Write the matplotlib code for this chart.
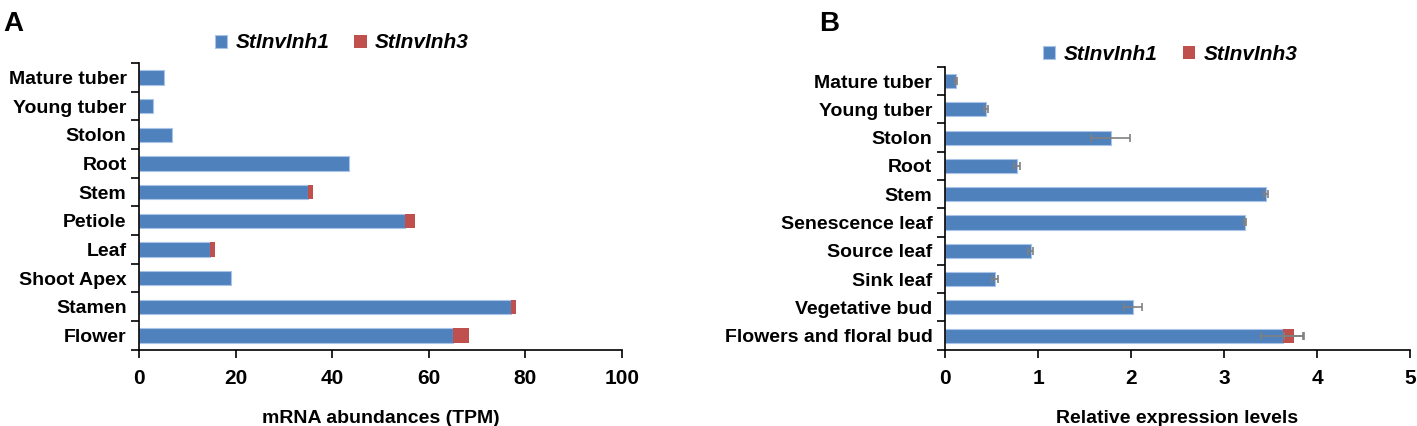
import matplotlib.pyplot as plt
import numpy as np

# panel A: RNA-seq abundances (TPM), listed bottom -> top
tissues_a = ["Flower", "Stamen", "Shoot Apex", "Leaf", "Petiole",
             "Stem", "Root", "Stolon", "Young tuber", "Mature tuber"]
inh1_a = [64.9, 77.0, 19.0, 14.6, 55.0, 34.9, 43.4, 6.8, 3.0, 5.2]
inh3_a = [3.5, 1.0, 0.0, 1.1, 2.1, 1.2, 0.0, 0.0, 0.0, 0.0]

# panel B: qRT-PCR relative expression, listed bottom -> top
tissues_b = ["Flowers and floral bud", "Vegetative bud", "Sink leaf", "Source leaf",
             "Senescence leaf", "Stem", "Root", "Stolon", "Young tuber", "Mature tuber"]
inh1_b = [3.63, 2.02, 0.54, 0.92, 3.23, 3.45, 0.775, 1.78, 0.44, 0.12]
inh1_b_err = [0.23, 0.10, 0.03, 0.025, 0.01, 0.02, 0.035, 0.21, 0.025, 0.01]
inh3_b = [0.12, 0.0, 0.0, 0.0, 0.0, 0.0, 0.0, 0.0, 0.0, 0.0]
inh3_b_err = [0.10, 0, 0, 0, 0, 0, 0, 0, 0, 0]

blue = "#4F81BD"
red = "#C0504D"

plt.rcParams['font.family'] = ['Liberation Sans', 'DejaVu Sans']
plt.rcParams['font.weight'] = 'bold'
fs = 14

fig = plt.figure(figsize=(14.17, 4.26), dpi=100)
ax_a = fig.add_axes([0.0981, 0.179, 0.3409, 0.673])
ax_b = fig.add_axes([0.6669, 0.179, 0.3282, 0.664])


def style_axis(ax, n, xmax, xticks):
    ax.set_ylim(-0.5, n - 0.5)
    ax.set_xlim(0, xmax)
    ax.set_xticks(xticks)
    for s in ["top", "right"]:
        ax.spines[s].set_visible(False)
    ax.spines["left"].set_linewidth(1.2)
    ax.spines["bottom"].set_linewidth(1.2)
    # category labels without ticks, tick marks at boundaries
    ax.set_yticks(np.arange(n))
    ax.tick_params(axis="y", length=0, pad=9, labelsize=fs)
    ax.set_yticks(np.arange(n + 1) - 0.5, minor=True)
    ax.tick_params(axis="y", which="minor", length=6, width=1.2, direction="out")
    ax.tick_params(axis="x", length=6, width=1.2, direction="out", pad=8, labelsize=fs + 1)


y = np.arange(len(tissues_a))
ax_a.barh(y, inh1_a, height=0.5, color=blue, edgecolor="#a9c4e6", linewidth=0.8,
          label="StInvInh1")
ax_a.barh(y, inh3_a, left=inh1_a, height=0.5, color=red, edgecolor="none",
          label="StInvInh3")
style_axis(ax_a, len(tissues_a), 100, [0, 20, 40, 60, 80, 100])
ax_a.set_yticklabels(tissues_a)
ax_a.set_xlabel("mRNA abundances (TPM)", fontsize=fs, fontweight="bold", labelpad=16)
ax_a.legend(loc="center", bbox_to_anchor=(0.42, 1.07), ncol=2, frameon=False,
            handlelength=0.6, handleheight=0.6, handletextpad=0.4, columnspacing=1.2,
            prop={"size": 15, "weight": "bold", "style": "italic"})

y = np.arange(len(tissues_b))
err_kw = dict(ecolor="#808080", elinewidth=1.2, capsize=3, capthick=1.2)
ax_b.barh(y, inh1_b, height=0.5, color=blue, edgecolor="#a9c4e6", linewidth=0.8,
          xerr=inh1_b_err, error_kw=err_kw, label="StInvInh1")
tot_b = np.array(inh1_b) + np.array(inh3_b)
mask = np.array(inh3_b) > 0
ax_b.barh(y, inh3_b, left=inh1_b, height=0.5, color=red, edgecolor="none",
          label="StInvInh3")
ax_b.errorbar(tot_b[mask], y[mask], xerr=np.array(inh3_b_err)[mask], fmt="none", **err_kw)
style_axis(ax_b, len(tissues_b), 5, [0, 1, 2, 3, 4, 5])
ax_b.set_yticklabels(tissues_b)
ax_b.set_xlabel("Relative expression levels", fontsize=fs, fontweight="bold", labelpad=16)
ax_b.legend(loc="center", bbox_to_anchor=(0.484, 1.045), ncol=2, frameon=False,
            handlelength=0.6, handleheight=0.6, handletextpad=0.4, columnspacing=1.2,
            prop={"size": 15, "weight": "bold", "style": "italic"})

fig.text(0.002, 0.975, "A", fontsize=20, fontweight="bold", va="top", ha="left")
fig.text(0.578, 0.975, "B", fontsize=20, fontweight="bold", va="top", ha="left")

fig.savefig("out.png", dpi=100)
